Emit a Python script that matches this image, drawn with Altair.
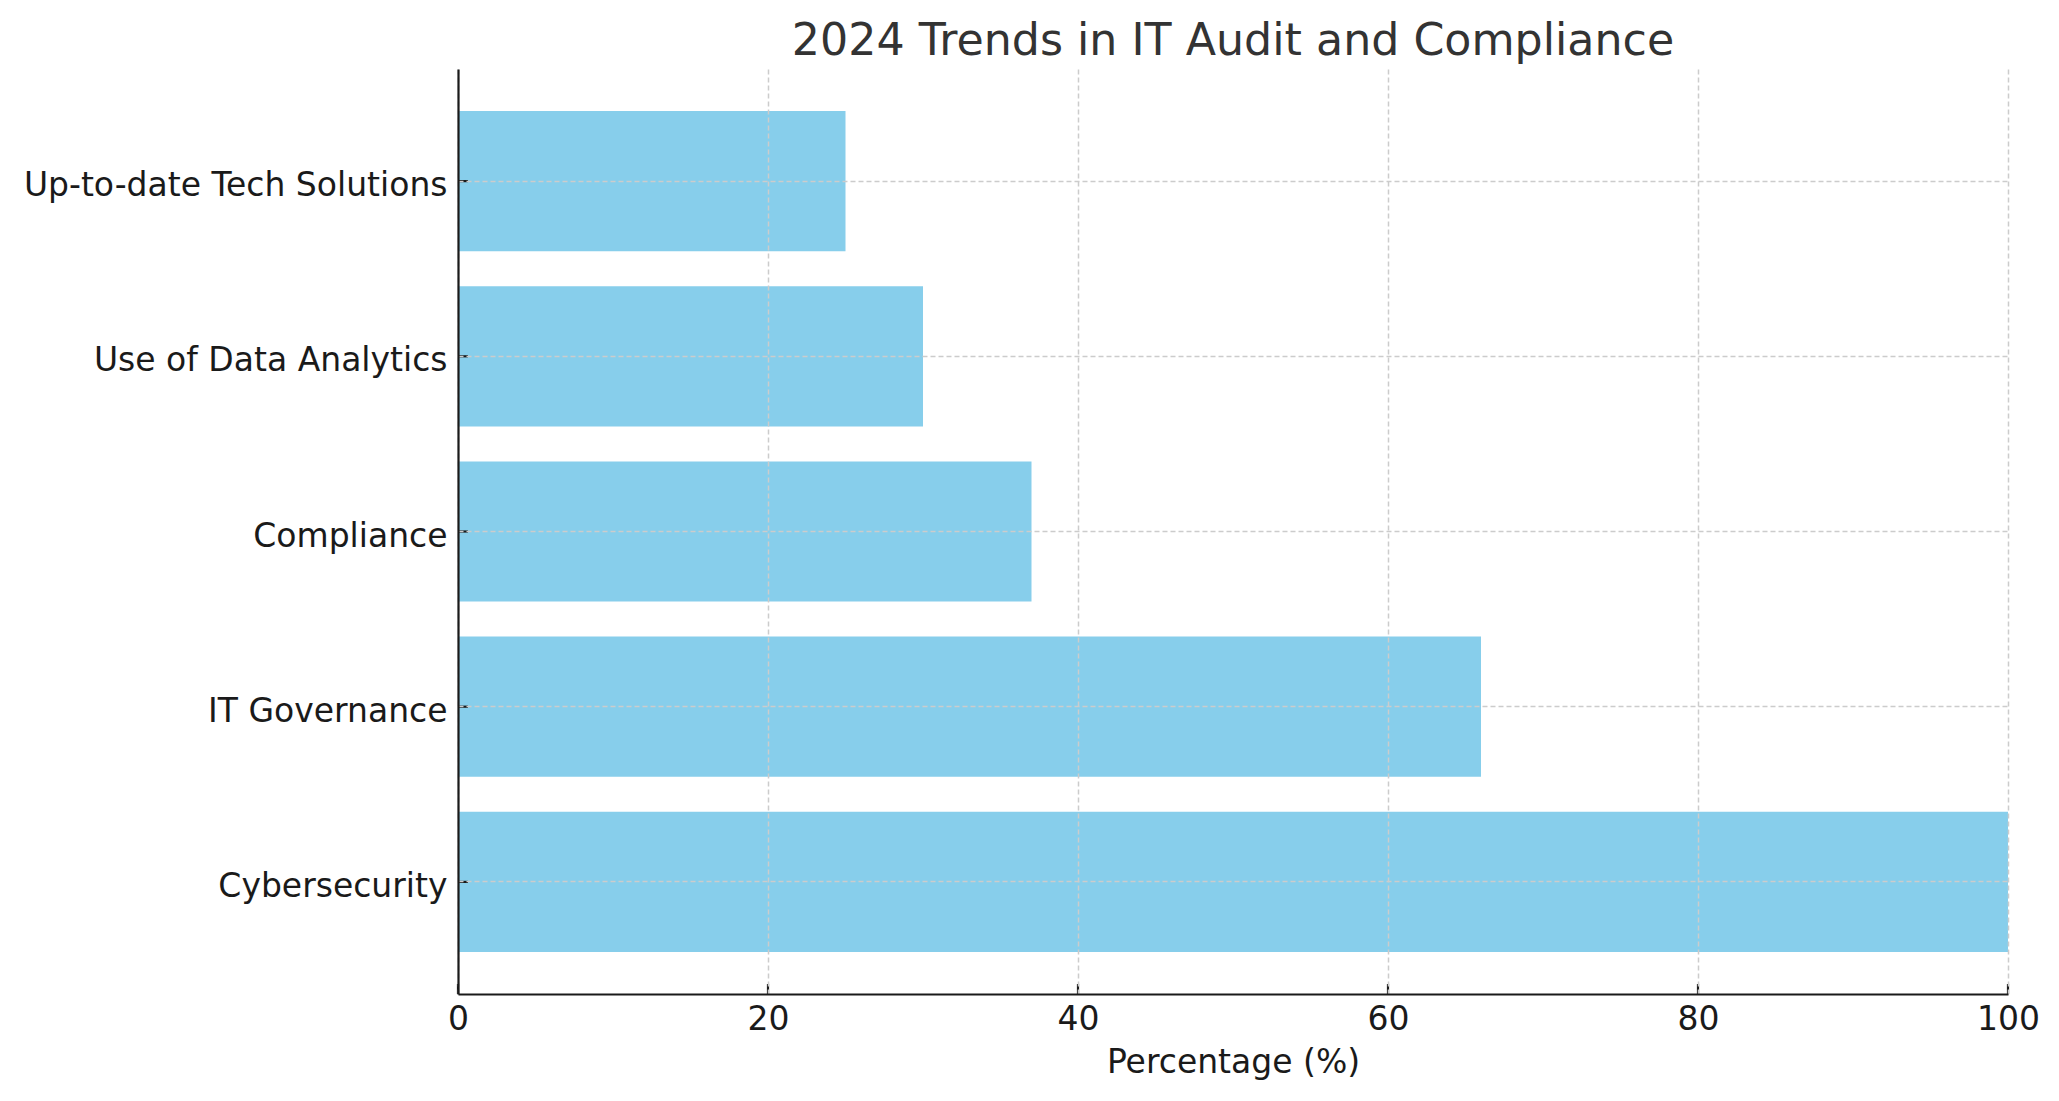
import altair as alt
import pandas as pd

categories = ["Cybersecurity", "IT Governance", "Compliance",
              "Use of Data Analytics", "Up-to-date Tech Solutions"]
values = [100, 66, 37, 30, 25]
x_ticks = [0, 20, 40, 60, 80, 100]

df = pd.DataFrame({"Trend": categories, "Percentage": values})
ticks_df = pd.DataFrame({"Percentage": x_ticks})
order = list(reversed(categories))

W, H = 1550, 925
FONT = "DejaVu Sans"
TXT = "#1a1a1a"
AX = "#1a1a1a"

xscale = alt.Scale(domain=[0, 100], nice=False, zero=True)
yscale = alt.Scale(paddingInner=0.2, paddingOuter=0.24)

yaxis = alt.Axis(title=None, ticks=False, labelFont=FONT, labelFontSize=33,
                 labelColor=TXT, labelPadding=11, labelLimit=900, labelOffset=5,
                 grid=True, gridColor="#cccccc", gridDash=[5, 3], gridWidth=1.5,
                 domainColor=AX, domainWidth=2.2, zindex=1)
xaxis = alt.Axis(title="Percentage (%)", values=x_ticks, format="d", ticks=False,
                 labelFont=FONT, labelFontSize=33, labelColor=TXT, labelPadding=9,
                 labelFlush=False,
                 titleFont=FONT, titleFontSize=33, titleColor=TXT,
                 titleFontWeight="normal", titlePadding=10,
                 grid=True, gridColor="#cccccc", gridDash=[5, 3], gridWidth=1.5,
                 domainColor=AX, domainWidth=2.2, zindex=1)

bars = alt.Chart(df).mark_bar(color="#87CEEB").encode(
    x=alt.X("Percentage:Q", scale=xscale, axis=xaxis),
    y=alt.Y("Trend:N", sort=order, scale=yscale, axis=yaxis),
)

xt = alt.Chart(ticks_df).mark_rule(color=AX, strokeWidth=2.2).encode(
    x=alt.X("Percentage:Q", scale=xscale, axis=xaxis),
    y=alt.value(H - 10), y2=alt.value(H),
)
yt = alt.Chart(df).mark_rule(color=AX, strokeWidth=2.2).encode(
    y=alt.Y("Trend:N", sort=order, scale=yscale, axis=yaxis),
    x=alt.value(0), x2=alt.value(10),
)

chart = alt.layer(bars, xt, yt).properties(
    width=W, height=H,
    autosize=alt.AutoSizeParams(type="none"),
    padding={"left": 450, "top": 61, "right": 43, "bottom": 99},
    title=alt.TitleParams("2024 Trends in IT Audit and Compliance", font=FONT,
                          fontSize=44.3, fontWeight="normal", color="#333333",
                          anchor="middle", offset=5),
).configure_view(stroke=None)

chart.save("out.html", embed_options={"renderer": "svg", "actions": False})
